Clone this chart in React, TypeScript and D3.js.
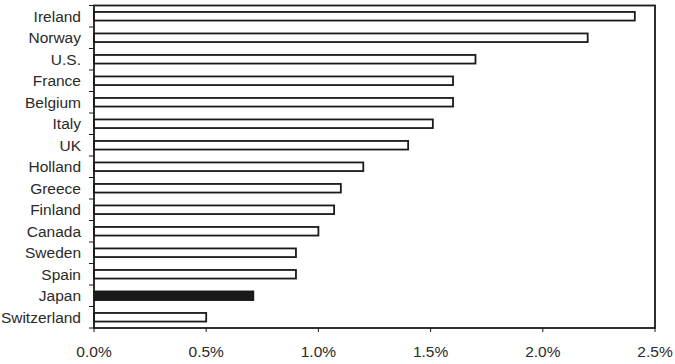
import React from "react";
import * as d3 from "d3";

const countries = ["Ireland", "Norway", "U.S.", "France", "Belgium", "Italy", "UK", "Holland", "Greece", "Finland", "Canada", "Sweden", "Spain", "Japan", "Switzerland"];
const values = [2.41, 2.2, 1.7, 1.6, 1.6, 1.51, 1.4, 1.2, 1.1, 1.07, 1.0, 0.9, 0.9, 0.71, 0.5];
const highlighted = ["Japan"];
const xTicks = [0, 0.5, 1.0, 1.5, 2.0, 2.5];

export default function App() {
  const W = 675, H = 364;
  const left = 94, right = 655, top = 5.5, bottom = 328;
  const x = d3.scaleLinear().domain([0, 2.5]).range([left, right]);
  const y = d3.scaleBand<string>().domain(countries).range([top, bottom]).paddingInner(0.6).paddingOuter(0.3);
  const yb = d3.scaleBand<string>().domain(countries).range([top, bottom]);
  const font = "'Liberation Sans', Arial, Helvetica, sans-serif";
  const ink = "#1a1a1a";
  return (
    <svg width={W} height={H} style={{ position: "absolute", left: 0, top: 0, background: "#fff" }}>
      <rect x={0} y={0} width={W} height={H} fill="#fff" />
      {countries.map((c, i) => (
        <rect key={c} x={x(0)} y={y(c)!} width={x(values[i]) - x(0)} height={y.bandwidth()}
          fill={highlighted.includes(c) ? ink : "#fff"} stroke={ink} strokeWidth={1.8} />
      ))}
      <rect x={left} y={top} width={right - left} height={bottom - top} fill="none" stroke={ink} strokeWidth={1.8} />
      {countries.map((c) => (
        <line key={"t" + c} x1={left - 5} x2={left} y1={yb(c)!} y2={yb(c)!} stroke={ink} strokeWidth={1} />
      ))}
      <line x1={left - 5} x2={left} y1={bottom} y2={bottom} stroke={ink} strokeWidth={1} />
      {countries.map((c) => (
        <text key={"l" + c} x={81} y={yb(c)! + yb.bandwidth() / 2} dy="0.36em" textAnchor="end"
          fontFamily={font} fontSize={15.5} fill="#2a2a2a">{c}</text>
      ))}
      {xTicks.map((t) => (
        <g key={"x" + t}>
          <line x1={x(t)} x2={x(t)} y1={bottom} y2={bottom + 4} stroke={ink} strokeWidth={1} />
          <text x={x(t)} y={356.5} textAnchor="middle" fontFamily={font} fontSize={15.5} fill="#2a2a2a">
            {d3.format(".1f")(t) + "%"}
          </text>
        </g>
      ))}
    </svg>
  );
}
